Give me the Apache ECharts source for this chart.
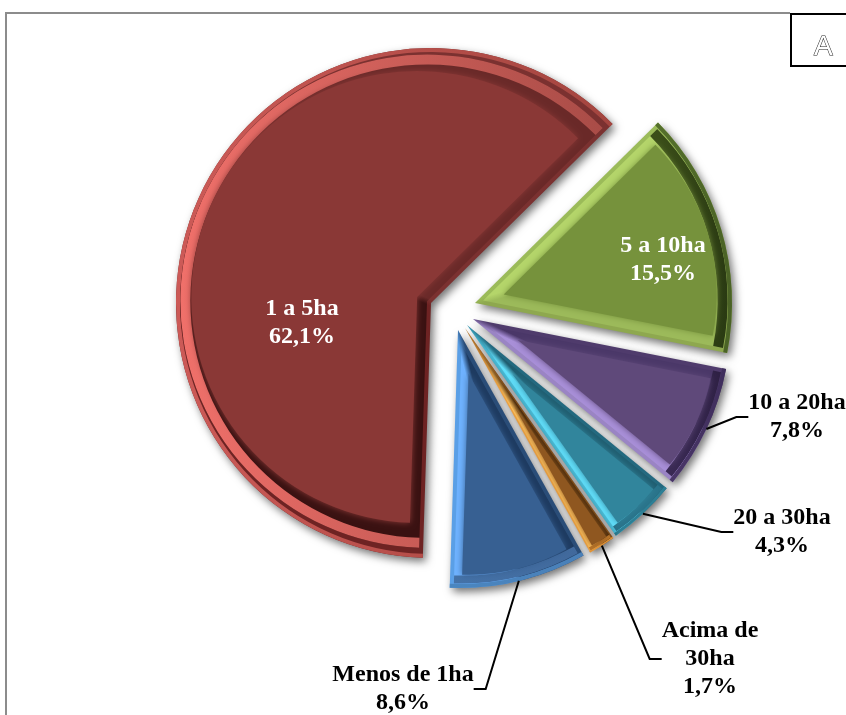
<!DOCTYPE html>
<html><head><meta charset="utf-8">
<style>html,body{margin:0;padding:0;background:#fff}#c{width:846px;height:715px}</style>
<script src="https://cdn.jsdelivr.net/npm/echarts@6/dist/echarts.min.js"></script>
</head><body><div id="c"></div>
<script>
const categories = ['5 a 10ha','10 a 20ha','20 a 30ha','Acima de\n30ha','Menos de 1ha','1 a 5ha'];
const shares = [15.5,7.8,4.3,1.7,8.6,62.1];
const firstEdge = 45.4; // degrees clockwise from north
const tips = [[475,303],[473,319],[467,325],[465,328],[458,330],[431,303]];
const radii = [257,258,258,257,258,255];
const bands = [[4,14],[4,12],[3,9],[1.5,5],[4,12],[4,14]];
const faces = ['#76923c','#5f497a','#31859c','#8f5720','#376092','#8a3836'];
const outerEdges = [['#9bbb59','#8ea84f'],['#4f3b6c','#9a84c4'],['#23697f','#4bc0dc'],['#7a4a18','#f1a544'],['#2a4d78','#5a9fe6'],['#6e2323','#7b3130']];
const innerEdges = [['#b4d56a','#9cba5a'],['#4a3768','#a88fd8'],['#1f5d70','#63e3ff'],['#4a2a0a','#ffc25e'],['#1d3a60','#6eb2ff'],['#3a1111','#6a2928']];
const outerArcs = [['#55702c','#4a6226'],['#4a3768','#3f2e5c'],['#2d7f95','#2d7f95'],['#e29438','#e29438'],['#4a86c0','#4a80b8'],['#cc5a57','#a4453f']];
const innerArcs = [['#3c5019','#2a3a12'],['#3a2a55','#2e2044'],['#29738a','#29738a'],['#b87428','#b87428'],['#4472a8','#41699c'],['#f0706a','#a94c47']];
const labelSpots = [[663,260],[797,417],[782,532],[710,659],[403,689],[302,323]];
const labelInside = [true,false,false,false,false,true];
const fontStack = '"Liberation Serif","Times New Roman",serif';

const series = [];
const clear = {color:'rgba(0,0,0,0)',shadowBlur:0,shadowOffsetX:0,shadowOffsetY:0,borderWidth:0};

function pie(i, start, center, radius, itemStyle, extra){
  series.push(Object.assign({
    type:'pie', silent:true, animation:false, clockwise:true, avoidLabelOverlap:false,
    startAngle:90-start, center, radius,
    label:{show:false}, labelLine:{show:false}, emphasis:{disabled:true},
    data:[
      {name:categories[i],value:shares[i],itemStyle},
      {name:'',value:100-shares[i],itemStyle:clear,label:{show:false},labelLine:{show:false}}
    ]
  },extra||{}));
}

let startA = firstEdge;
const starts = shares.map(v=>{const s=startA; startA+=v*3.6; return s;});

// shadows and bevels
shares.forEach((v,i)=>{
  const span=v*3.6, mid=(starts[i]+span/2)*Math.PI/180;
  const ux=Math.sin(mid), uy=-Math.cos(mid), px=Math.cos(mid), py=Math.sin(mid);
  const half=Math.sin(span/2*Math.PI/180);
  const inset=d=>{
    const s=d/half;
    return {c:[tips[i][0]+ux*s,tips[i][1]+uy*s], r:radii[i]-s-d};
  };
  const split=(c,cols)=>({type:'linear',global:true,
    x:c[0]-px*3,y:c[1]-py*3,x2:c[0]+px*3,y2:c[1]+py*3,
    colorStops:[{offset:0,color:cols[0]},{offset:1,color:cols[1]}]});
  const arc=cols=>({type:'linear',x:0,y:0.5,x2:1,y2:0.5,
    colorStops:[{offset:0,color:cols[0]},{offset:1,color:cols[1]}]});
  const [d1,d2]=bands[i];
  const a=inset(d1), b=inset(d2);
  pie(i,starts[i],tips[i],[0,radii[i]],{color:split(tips[i],outerEdges[i]),shadowColor:'rgba(0,0,0,0.55)',shadowBlur:9,shadowOffsetX:3,shadowOffsetY:4});
  pie(i,starts[i],tips[i],[radii[i]-d1,radii[i]],{color:arc(outerArcs[i])});
  pie(i,starts[i],a.c,[0,a.r],{color:split(a.c,innerEdges[i])});
  pie(i,starts[i],a.c,[Math.max(a.r-(d2-d1),0),a.r],{color:arc(innerArcs[i])});
  pie(i,starts[i],b.c,[0,b.r],{color:faces[i],shadowColor:faces[i],shadowBlur:6});
});

// labels on top
shares.forEach((v,i)=>{
  pie(i,starts[i],tips[i],[0,radii[i]],clear,{
    z:10,
    label:{show:true,position:labelInside[i]?'inside':'outside',
      formatter:p=>p.name+'\n'+String(p.value).replace('.',',')+'%',
      fontFamily:fontStack,fontWeight:'bold',fontSize:24,lineHeight:28,
      color:labelInside[i]?'#fff':'#000',align:'center'},
    labelLine:{show:!labelInside[i],length:12,length2:12,smooth:false,lineStyle:{color:'#000',width:2}},
    labelLayout:p=>p.dataIndex===0?{x:labelSpots[i][0],y:labelSpots[i][1],align:'center',verticalAlign:'middle'}:{}
  });
});

const chart = echarts.init(document.getElementById('c'),null,{renderer:'canvas'});
chart.setOption({
  backgroundColor:'#fff',
  animation:false,
  title:{text:'A',left:809,top:28,textStyle:{fontFamily:'"Liberation Sans",sans-serif',fontWeight:'normal',fontSize:28,color:'#fff',textBorderColor:'#222',textBorderWidth:1}},
  graphic:[
    {type:'line',z:-1,shape:{x1:6,y1:13,x2:790,y2:13},style:{stroke:'#8c8c8c',lineWidth:2}},
    {type:'line',z:-1,shape:{x1:6,y1:12,x2:6,y2:715},style:{stroke:'#8c8c8c',lineWidth:2}},
    {type:'rect',z:-1,shape:{x:791,y:14,width:60,height:52},style:{fill:'#fff',stroke:'#000',lineWidth:2}}
  ],
  series
});
</script></body></html>
